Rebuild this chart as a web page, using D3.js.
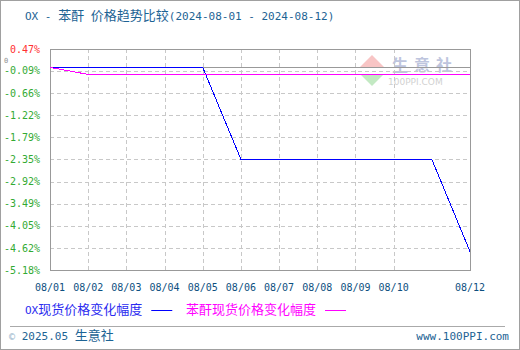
<!DOCTYPE html>
<html lang="zh">
<head>
<meta charset="UTF-8">
<title>OX - 苯酐 价格趋势比较</title>
<script src="https://d3js.org/d3.v7.min.js"></script>
<style>
    body { margin: 0; background: #fff; }
    svg { display: block; }
    .mono { font-family: "DejaVu Sans Mono", "Noto Sans CJK SC", monospace; }
</style>
</head>
<body>
<div id="chart"></div>
<script>
// ---- data ----
var dates = ["08/01", "08/02", "08/03", "08/04", "08/05", "08/06",
             "08/07", "08/08", "08/09", "08/10", "08/11", "08/12"];
var xLabels = ["08/01", "08/02", "08/03", "08/04", "08/05", "08/06",
               "08/07", "08/08", "08/09", "08/10", "08/12"];
var oxChange = [0, 0, 0, 0, 0, -2.35, -2.35, -2.35, -2.35, -2.35, -2.35, -4.71];
var paChange = [0, -0.18, -0.18, -0.18, -0.18, -0.18, -0.18, -0.18, -0.18, -0.18, -0.18, -0.18];
var yTicks = [0.47, -0.09, -0.66, -1.22, -1.79, -2.35, -2.92, -3.49, -4.05, -4.62, -5.18];
var yTickLabels = ["0.47%", "-0.09%", "-0.66%", "-1.22%", "-1.79%", "-2.35%",
                   "-2.92%", "-3.49%", "-4.05%", "-4.62%", "-5.18%"];
var seriesNames = ["OX现货价格变化幅度", "苯酐现货价格变化幅度"];
var seriesColors = ["#0000ff", "#ff00ff"];

var W = 520, H = 350;
var margin = { top: 49, right: 50, bottom: 80, left: 50 };
var width = W - margin.left - margin.right,
    height = H - margin.top - margin.bottom;

var svg = d3.select("#chart").append("svg")
    .attr("width", W)
    .attr("height", H);

// mixed text: latin in small mono, CJK a bit bigger (like SimSun look)
function runs(sel, str, latin, cjk) {
    var parts = str.match(/[\u3400-\u9fff]+|[^\u3400-\u9fff]+/g);
    parts.forEach(function (p) {
        sel.append("tspan")
            .attr("font-size", /[\u3400-\u9fff]/.test(p) ? cjk : latin)
            .text(p);
    });
    return sel;
}

// outer frame
svg.append("rect")
    .attr("x", 0.5).attr("y", 0.5)
    .attr("width", W - 1).attr("height", H - 1)
    .attr("fill", "none").attr("stroke", "#a0a0a0");

// title
runs(svg.append("text").attr("class", "mono")
    .attr("x", 25).attr("y", 20)
    .attr("fill", "#1d6394"), "OX - 苯酐 价格趋势比较(2024-08-01 - 2024-08-12)", 11, 13);

var g = svg.append("g")
    .attr("transform", "translate(" + margin.left + "," + margin.top + ")");

var x = d3.scalePoint().domain(dates).range([0, width]);
var y = d3.scaleLinear().domain([yTicks[yTicks.length - 1], yTicks[0]]).range([height, 0]);

// watermark
var wm = g.append("g").attr("opacity", 0.45);
wm.append("path").attr("d", "M" + (372 - 50) + ",6 L" + (384 - 50) + ",18 L" + (360 - 50) + ",18 Z").attr("fill", "#f08080");
wm.append("path").attr("d", "M" + (360 - 50) + ",25 L" + (384 - 50) + ",25 L" + (372 - 50) + ",37 Z").attr("fill", "#7ccf7c");
wm.append("text").attr("x", 392 - 50).attr("y", 22)
    .attr("font-family", "Noto Sans CJK SC").attr("font-size", 16).attr("font-weight", "bold")
    .attr("letter-spacing", 6).attr("fill", "#7080b8").text("生意社");
wm.append("text").attr("x", 388 - 50).attr("y", 36)
    .attr("font-family", "DejaVu Sans").attr("font-size", 9).attr("fill", "#999").text("100PPI.COM");

// horizontal grid
g.selectAll(".hgrid")
    .data(yTicks.slice(1, -1))
    .enter().append("line")
    .attr("x1", 0).attr("x2", width)
    .attr("y1", function (d) { return Math.round(y(d)) + 0.5; })
    .attr("y2", function (d) { return Math.round(y(d)) + 0.5; })
    .attr("stroke", "#c8c8c8").attr("stroke-dasharray", "4,3");

// vertical grid
g.selectAll(".vgrid")
    .data(xLabels.slice(1, -1))
    .enter().append("line")
    .attr("x1", function (d) { return Math.round(x(d)) + 0.5; })
    .attr("x2", function (d) { return Math.round(x(d)) + 0.5; })
    .attr("y1", 0).attr("y2", height)
    .attr("stroke", "#c8c8c8").attr("stroke-dasharray", "4,3");

// zero line
g.append("line")
    .attr("x1", 0).attr("x2", width)
    .attr("y1", Math.round(y(0)) + 0.5).attr("y2", Math.round(y(0)) + 0.5)
    .attr("stroke", "#999");

// plot frame
g.append("rect")
    .attr("x", 0.5).attr("y", 0.5)
    .attr("width", width).attr("height", height)
    .attr("fill", "none").attr("stroke", "#999");

// y labels
g.selectAll(".ylab")
    .data(yTicks)
    .enter().append("text")
    .attr("class", "mono")
    .attr("x", -10)
    .attr("y", function (d) { return y(d); })
    .attr("dy", "0.35em")
    .attr("text-anchor", "end")
    .attr("font-size", 10)
    .attr("fill", function (d, i) { return i == 0 ? "#ff3030" : "#33aa33"; })
    .text(function (d, i) { return yTickLabels[i]; });

// little grey "0" for the zero line (just above the minus of -0.09%)
g.append("text").attr("class", "mono")
    .attr("x", -46).attr("y", y(0) - 4)
    .attr("font-size", 7).attr("fill", "#909090").text("0");

// x labels
g.selectAll(".xlab")
    .data(xLabels)
    .enter().append("text")
    .attr("class", "mono")
    .attr("x", function (d) { return x(d); })
    .attr("y", height + 21)
    .attr("text-anchor", "middle")
    .attr("font-size", 10)
    .attr("fill", "#0d4f80")
    .text(function (d) { return d; });

// lines
var line = d3.line()
    .x(function (d, i) { return x(dates[i]); })
    .y(function (d) { return y(d); });

[oxChange, paChange].forEach(function (s, k) {
    g.append("path")
        .datum(s)
        .attr("fill", "none")
        .attr("stroke", seriesColors[k])
        .attr("stroke-width", 1)
        .attr("shape-rendering", "crispEdges")
        .attr("d", line);
});

// legend
var legX = [25, 186];
seriesNames.forEach(function (name, k) {
    var t = svg.append("text").attr("class", "mono")
        .attr("x", legX[k]).attr("y", 314)
        .attr("fill", seriesColors[k] == "#0000ff" ? "#2b2bf0" : "#ff00ff");
    runs(t, name, 11, 13);
    var end = t.node().getComputedTextLength() + legX[k];
    svg.append("line")
        .attr("x1", end + 9).attr("x2", end + 30)
        .attr("y1", 310.5).attr("y2", 310.5)
        .attr("stroke", seriesColors[k]);
});

// footer
svg.append("line")
    .attr("x1", 10).attr("x2", 505)
    .attr("y1", 326.5).attr("y2", 326.5)
    .attr("stroke", "#aaa");

var ft = svg.append("text").attr("class", "mono")
    .attr("x", 9).attr("y", 340).attr("fill", "#1d6394");
ft.append("tspan").attr("font-size", 10).attr("fill", "#8fb0c8").text("©");
runs(ft, " 2025.05 生意社", 11, 13);

svg.append("text").attr("class", "mono")
    .attr("x", 509).attr("y", 340)
    .attr("text-anchor", "end")
    .attr("font-size", 11)
    .attr("fill", "#1d6394")
    .text("www.100PPI.com");
</script>
</body>
</html>
